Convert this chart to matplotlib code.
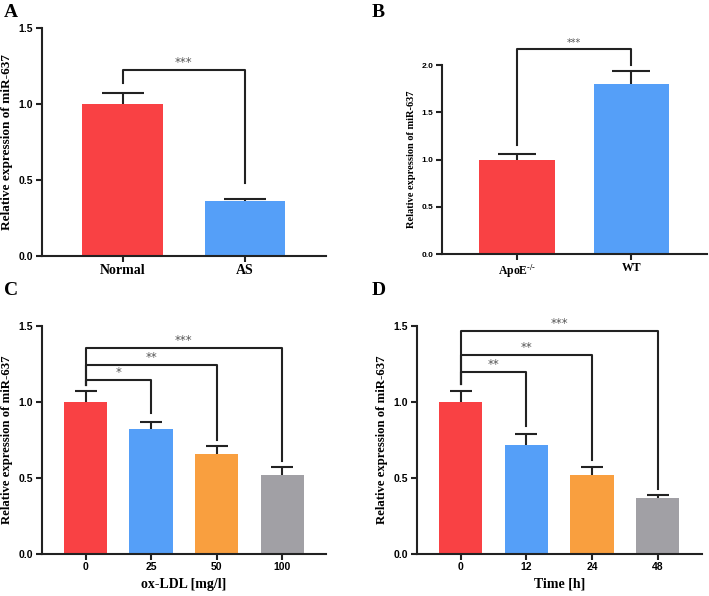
import numpy as np
import matplotlib
matplotlib.use("Agg")
import matplotlib.pyplot as plt

plt.rcParams["mathtext.fontset"] = "custom"
plt.rcParams["mathtext.rm"] = "Liberation Serif:bold"
plt.rcParams["mathtext.default"] = "rm"

RED = "#F94144"
BLUE = "#559FF8"
ORANGE = "#F99F3F"
GRAY = "#A1A0A5"
SERIF = "Liberation Serif"
SANS = "Liberation Sans"

# panel A
a_labels = ["Normal", "AS"]
a_vals = [1.0, 0.36]
a_err = [0.07, 0.015]

# panel B
b_labels = [r"ApoE$^{\text{-/-}}$", "WT"]
b_vals = [1.0, 1.80]
b_err = [0.06, 0.14]

# panel C
c_labels = ["0", "25", "50", "100"]
c_vals = [1.0, 0.82, 0.66, 0.52]
c_err = [0.07, 0.05, 0.05, 0.05]

# panel D
d_labels = ["0", "12", "24", "48"]
d_vals = [1.0, 0.72, 0.52, 0.37]
d_err = [0.07, 0.07, 0.05, 0.02]

fig = plt.figure(figsize=(7.09, 5.96), dpi=100)


def bars(ax, labels, vals, err, colors, cap, ylim, yticks, tick_fs, ylab_fs,
         xt_font, xt_fs, xlim):
    x = np.arange(len(vals))
    ax.bar(x, vals, width=0.66, color=colors, zorder=2)
    eb = ax.errorbar(x, vals, yerr=[np.zeros(len(err)), err], fmt="none",
                     ecolor="#222222", elinewidth=1.5, capsize=cap,
                     capthick=1.5, zorder=3)
    eb[1][0].set_visible(False)
    ax.set_xlim(*xlim)
    ax.set_ylim(*ylim)
    ax.set_yticks(yticks)
    ax.set_yticklabels([f"{t:.1f}" for t in yticks], fontfamily=SANS,
                       fontweight="bold", fontsize=tick_fs)
    ax.set_xticks(x)
    ax.set_xticklabels(labels, fontfamily=xt_font, fontweight="bold",
                       fontsize=xt_fs)
    for s in ["top", "right"]:
        ax.spines[s].set_visible(False)
    for s in ["left", "bottom"]:
        ax.spines[s].set_linewidth(1.5)
        ax.spines[s].set_color("#222222")
    ax.tick_params(width=1.5, length=4, color="#222222", pad=2)
    ax.set_ylabel("Relative expression of miR-637", fontfamily=SERIF,
                  fontweight="bold", fontsize=ylab_fs, labelpad=4)


def bracket(ax, x1, x2, y, y1, y2, text, fs=8.5):
    ax.plot([x1, x1, x2, x2], [y1, y, y, y2], color="#222222", lw=1.5,
            clip_on=False, zorder=4)
    ax.text((x1 + x2) / 2, y + 0.005, text, ha="center", va="bottom",
            color="#555555", fontsize=fs, clip_on=False)


# A
axA = fig.add_axes([0.0588, 0.5705, 0.401, 0.3826])
bars(axA, a_labels, a_vals, a_err, [RED, BLUE], 15, (0, 1.5),
     [0.0, 0.5, 1.0, 1.5], 7.5, 9.5, SERIF, 10, (-0.662, 1.662))
bracket(axA, 0, 1, 1.225, 1.14, 0.48, "***")

# B
axB = fig.add_axes([0.623, 0.5738, 0.3738, 0.3171])
bars(axB, b_labels, b_vals, b_err, [RED, BLUE], 13.5, (0, 2.0),
     [0.0, 0.5, 1.0, 1.5, 2.0], 6, 7.5, SERIF, 8.5, (-0.659, 1.66))
bracket(axB, 0, 1, 2.17, 1.15, 2.0, "***", fs=7)

# C
axC = fig.add_axes([0.0588, 0.0705, 0.401, 0.3826])
bars(axC, c_labels, c_vals, c_err, [RED, BLUE, ORANGE, GRAY], 8.2, (0, 1.5),
     [0.0, 0.5, 1.0, 1.5], 7.5, 9.2, SANS, 7.5, (-0.668, 3.666))
axC.set_xlabel("ox-LDL [mg/l]", fontfamily=SERIF, fontweight="bold",
               fontsize=10, labelpad=4)
bracket(axC, 0, 1, 1.145, 1.11, 0.93, "*")
bracket(axC, 0, 2, 1.245, 1.11, 0.75, "**")
bracket(axC, 0, 3, 1.357, 1.11, 0.61, "***")

# D
axD = fig.add_axes([0.5877, 0.0705, 0.402, 0.3826])
bars(axD, d_labels, d_vals, d_err, [RED, BLUE, ORANGE, GRAY], 7.6, (0, 1.5),
     [0.0, 0.5, 1.0, 1.5], 7.5, 9.2, SANS, 7.5, (-0.672, 3.67))
axD.set_xlabel("Time [h]", fontfamily=SERIF, fontweight="bold",
               fontsize=10, labelpad=4)
bracket(axD, 0, 1, 1.20, 1.12, 0.84, "**")
bracket(axD, 0, 2, 1.31, 1.12, 0.62, "**")
bracket(axD, 0, 3, 1.47, 1.12, 0.43, "***")

for lab, (px, py) in zip("ABCD", [(4, 4), (372, 4), (4, 282), (372, 282)]):
    fig.text(px / 709, 1 - py / 596, lab, fontfamily=SERIF, fontweight="bold",
             fontsize=14, va="top", ha="left")

fig.savefig("out.png", dpi=100)
